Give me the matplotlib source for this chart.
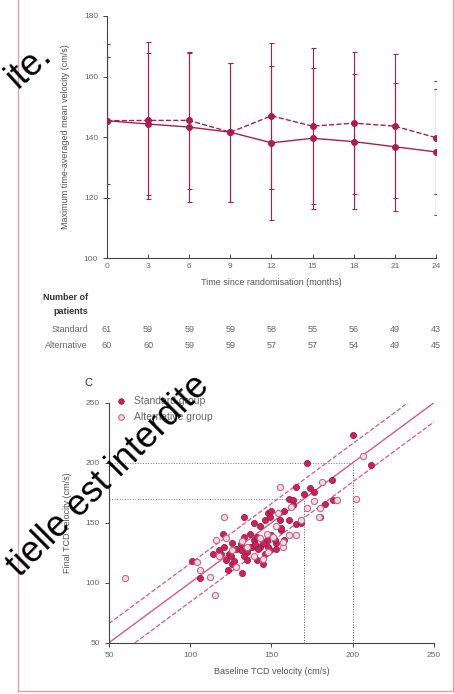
import matplotlib
matplotlib.use('Agg')
import matplotlib.pyplot as plt
from matplotlib import transforms

plt.rcParams['font.family'] = ['Liberation Sans Narrow', 'Liberation Sans', 'DejaVu Sans']

# --- top panel: mean velocity over time ---
months = [0, 3, 6, 9, 12, 15, 18, 21, 24]
std_mean = [145.4, 144.3, 143.3, 141.6, 138.1, 139.6, 138.5, 136.8, 135.1]
std_sd = [21.0, 23.6, 24.6, 23.0, 25.5, 23.2, 22.2, 21.2, 20.7]
alt_mean = [145.4, 145.5, 145.5, 141.6, 147.0, 143.6, 144.6, 143.6, 139.8]
alt_sd = [25.5, 26.0, 22.7, 23.0, 24.0, 25.7, 23.5, 23.7, 18.6]

n_standard = [61, 59, 59, 59, 58, 55, 56, 49, 43]
n_alternative = [60, 60, 59, 59, 57, 57, 54, 49, 45]

# --- bottom panel: baseline vs final TCD velocity ---
std_base = [200, 172, 211, 187, 174, 165, 183, 161, 163, 165, 155, 156, 146, 133, 143,
            133, 120, 126, 139, 147, 153, 158, 118, 124, 131, 137, 143, 149, 114, 122,
            126, 135, 141, 145, 101, 106, 132, 123, 148, 139, 180, 188,
            128, 131, 135, 138, 142, 145, 148, 152, 125, 121, 119, 137, 141, 150, 133,
            127, 146, 140, 156, 161, 158, 150, 163, 170, 176, 168, 153, 149]
std_final = [223, 200, 198, 186, 179, 180, 166, 170, 169, 149, 152, 144, 152, 155, 147,
             138, 141, 133, 136, 136, 133, 136, 127, 124, 127, 130, 130, 127, 124, 119,
             116, 119, 119, 116, 118, 104, 108, 111, 158, 150, 155, 169,
             128, 132, 126, 130, 128, 133, 130, 136, 122, 130, 124, 141, 138, 140, 122,
             118, 124, 132, 146, 152, 160, 160, 165, 174, 176, 150, 128, 155]
alt_base = [60, 206, 202, 155, 181, 180, 172, 179, 190, 121, 153, 154, 116, 112, 115,
            106, 104, 126, 139, 145, 157, 151, 147, 135, 118, 128, 161, 165, 168,
            122, 132, 143, 148, 157, 162, 176]
alt_final = [104, 206, 170, 180, 184, 162, 162, 155, 169, 155, 147, 158, 136, 105, 90,
             111, 117, 127, 122, 120, 130, 138, 141, 130, 122, 113, 140, 140, 152,
             137, 135, 137, 126, 134, 163, 168]
band = 16

main_col = '#a81f4f'
pink = '#d9577f'

fig = plt.figure(figsize=(4.54, 6.94), dpi=100)

# top chart
ax1 = fig.add_axes([0.2357, 0.628, 0.7245, 0.349])
ax1.plot(months, std_mean, color=main_col, lw=1.0, ls='-', marker='o', ms=4, zorder=3)
ax1.plot(months, alt_mean, color=main_col, lw=1.0, ls='--', marker='o', ms=4, zorder=3)
ax1.errorbar(months, std_mean, yerr=std_sd, fmt='none', ecolor=main_col, elinewidth=0.8,
             capsize=1.8, capthick=0.8)
ax1.errorbar(months, alt_mean, yerr=alt_sd, fmt='none', ecolor=main_col, elinewidth=0.8,
             capsize=1.8, capthick=0.8)
ax1.set_xlim(0, 24)
ax1.set_ylim(100, 180)
ax1.set_xticks(months)
ax1.set_yticks([100, 120, 140, 160, 180])
ax1.spines['top'].set_visible(False)
ax1.spines['right'].set_visible(False)
for s in ['left', 'bottom']:
    ax1.spines[s].set_color('#444444')
    ax1.spines[s].set_linewidth(0.8)
ax1.tick_params(axis='both', labelsize=6, colors='#444444', labelcolor='#666666', length=3, width=0.7)
ax1.tick_params(axis='x', direction='in')
ax1.set_xlabel('Time since randomisation (months)', fontsize=6.5, color='#555555', labelpad=6)
ax1.set_ylabel('Maximum time-averaged mean velocity (cm/s)', fontsize=6.5, color='#555555', labelpad=10)

# number at risk table
tr = transforms.blended_transform_factory(ax1.transData, fig.transFigure)
fig.text(88 / 454, 1 - 298 / 694, 'Number of', fontsize=6.5, fontweight='bold', ha='right', va='center', color='#333333')
fig.text(88 / 454, 1 - 311 / 694, 'patients', fontsize=6.5, fontweight='bold', ha='right', va='center', color='#333333')
fig.text(88 / 454, 1 - 329 / 694, 'Standard', fontsize=6.5, ha='right', va='center', color='#666666')
fig.text(88 / 454, 1 - 346 / 694, 'Alternative', fontsize=6.5, ha='right', va='center', color='#666666')
for m, a, b in zip(months, n_standard, n_alternative):
    ax1.text(m, 1 - 329 / 694, str(a), transform=tr, fontsize=6.5, ha='center', va='center', color='#666666')
    ax1.text(m, 1 - 346 / 694, str(b), transform=tr, fontsize=6.5, ha='center', va='center', color='#666666')

# bottom chart
ax2 = fig.add_axes([0.240, 0.0739, 0.716, 0.3458])
fig.text(88 / 454, 1 - 383 / 694, 'C', fontsize=8, ha='center', va='center', color='#333333')
ax2.plot([50, 250], [50, 250], color=pink, lw=1.0, zorder=2)
ax2.plot([50, 250 - band], [50 + band, 250], color=pink, lw=0.9, ls='--', zorder=2)
ax2.plot([50 + band, 250], [50, 250 - band], color=pink, lw=0.9, ls='--', zorder=2)
ax2.plot([50, 200], [200, 200], color='#777777', lw=0.7, ls=':', zorder=1)
ax2.plot([200, 200], [50, 200], color='#555555', lw=0.7, ls=':', zorder=1)
ax2.plot([50, 170], [170, 170], color='#777777', lw=0.7, ls=':', zorder=1)
ax2.plot([170, 170], [50, 170], color='#555555', lw=0.7, ls=':', zorder=1)
ax2.scatter(std_base, std_final, s=20, color='#c8245a', edgecolors='#8c1a40', linewidths=0.5,
            label='Standard group', zorder=3)
ax2.scatter(alt_base, alt_final, s=20, facecolors='#f6dbe4', edgecolors='#c06a88', linewidths=0.8,
            label='Alternative group', zorder=3)
ax2.set_xlim(50, 250)
ax2.set_ylim(50, 250)
ax2.set_xticks([50, 100, 150, 200, 250])
ax2.set_yticks([50, 100, 150, 200, 250])
ax2.spines['top'].set_visible(False)
ax2.spines['right'].set_visible(False)
for s in ['left', 'bottom']:
    ax2.spines[s].set_color('#444444')
    ax2.spines[s].set_linewidth(0.8)
ax2.tick_params(axis='both', labelsize=6, colors='#444444', labelcolor='#666666', length=3, width=0.7)
ax2.set_xlabel('Baseline TCD velocity (cm/s)', fontsize=6.5, color='#555555', labelpad=6)
ax2.set_ylabel('Final TCD velocity (cm/s)', fontsize=6.5, color='#555555', labelpad=10)
leg = ax2.legend(loc='upper left', bbox_to_anchor=(-0.008, 1.045), borderaxespad=0, frameon=False,
                 fontsize=7.5, handletextpad=0.3, labelspacing=0.55, markerscale=0.9)
for t in leg.get_texts():
    t.set_color('#666666')

# pink frame of the original page
fig.add_artist(plt.Line2D([18 / 454, 18 / 454], [0.005, 1.0], transform=fig.transFigure, color='#d9a0b6', lw=1.0))
fig.add_artist(plt.Line2D([18 / 454, 0.997], [0.005, 0.005], transform=fig.transFigure, color='#d9a0b6', lw=1.0))
fig.add_artist(plt.Line2D([0.997, 0.997], [0.005, 1.0], transform=fig.transFigure, color='#d9a0b6', lw=1.0))

# watermark text on the scan
fig.text(53 / 454, 1 - 57 / 694, 'ite.', fontsize=26, rotation=42, rotation_mode='anchor',
         ha='right', va='baseline', family='Liberation Sans', color='black')
fig.text(20 / 454, 1 - 578 / 694, 'tielle est interdite', fontsize=26, rotation=45, rotation_mode='anchor',
         ha='left', va='baseline', family='Liberation Sans', color='black')

fig.savefig('out.png', dpi=100)
